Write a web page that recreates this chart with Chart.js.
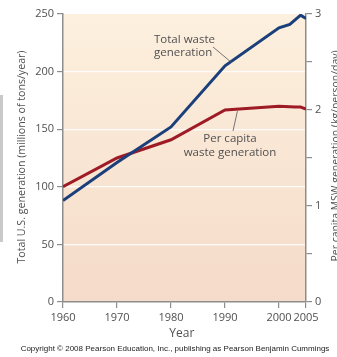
<!DOCTYPE html>
<html>
<head>
<meta charset="utf-8">
<script src="https://cdn.jsdelivr.net/npm/chart.js@4/dist/chart.umd.min.js"></script>
<style>
  html, body { margin: 0; padding: 0; background: #fff; }
  #wrap { position: relative; width: 337px; height: 357px; overflow: hidden; }
  #edge { position: absolute; left: 0; top: 95px; width: 3px; height: 147px; background: #c9c9c9; }
</style>
</head>
<body>
<div id="wrap">
  <canvas id="c" width="337" height="357"></canvas>
  <div id="edge"></div>
</div>
<script>
// Total municipal solid waste (millions of tons/year), left axis
const totalYears = [1960, 1970, 1980, 1990, 2000, 2002, 2004, 2005];
const totalWaste = [88, 121, 152, 205, 238, 241, 249, 246];

// Per capita MSW generation (kg/person/day), right axis
const perCapitaYears = [1960, 1970, 1980, 1990, 2000, 2003, 2004, 2005];
const perCapita = [1.20, 1.50, 1.69, 2.00, 2.04, 2.03, 2.03, 2.01];

// Axis tick labels
const yearTicks = [1960, 1970, 1980, 1990, 2000, 2005];
const leftTicks = [0, 50, 100, 150, 200, 250];
const rightTicks = [0, 0.5, 1, 1.5, 2, 2.5, 3];

const leftTitle = 'Total U.S. generation (millions of tons/year)';
const rightTitle = 'Per capita MSW generation (kg/person/day)';
const xTitle = 'Year';
const copyright = 'Copyright \u00A9 2008 Pearson Education, Inc., publishing as Pearson Benjamin Cummings';

const BLUE = '#1b3f7b';
const RED = '#9e1b26';
const AXIS = '#8d8d8d';
const TEXT = '#505050';
const FONT = '"Open Sans", "Noto Sans", sans-serif';

function interp(xs, ys, x) {
  for (let i = 0; i < xs.length - 1; i++) {
    if (x >= xs[i] && x <= xs[i + 1]) {
      const t = (x - xs[i]) / (xs[i + 1] - xs[i]);
      return ys[i] + t * (ys[i + 1] - ys[i]);
    }
  }
  return ys[ys.length - 1];
}

// Text squeezed to a given length along its baseline
function fitText(ctx, str, x, y, len, rot, align) {
  ctx.save();
  ctx.translate(x, y);
  ctx.rotate(rot);
  const w = ctx.measureText(str).width;
  const s = Math.min(1, len / w);
  ctx.scale(s, 1);
  ctx.textAlign = align || 'center';
  ctx.fillText(str, 0, 0);
  ctx.restore();
}

const backdrop = {
  id: 'backdrop',
  beforeDraw(chart) {
    const { ctx, chartArea: a } = chart;
    const g = ctx.createLinearGradient(0, a.top, 0, a.bottom);
    g.addColorStop(0, '#fdf0de');
    g.addColorStop(1, '#f5dbc9');
    ctx.save();
    ctx.fillStyle = g;
    ctx.fillRect(a.left, a.top, a.right - a.left, a.bottom - a.top);
    ctx.restore();
  }
};

const labels = {
  id: 'labels',
  afterDraw(chart) {
    const { ctx, scales } = chart;
    const x = scales.x, yl = scales.y, yr = scales.y2;
    ctx.save();
    ctx.fillStyle = TEXT;
    ctx.textBaseline = 'middle';

    // axis titles
    ctx.font = '11px ' + FONT;
    fitText(ctx, leftTitle, 22, 157, 213, -Math.PI / 2);
    fitText(ctx, rightTitle, 336, 156, 211, -Math.PI / 2);
    ctx.font = '12px ' + FONT;
    ctx.textAlign = 'center';
    ctx.fillText(xTitle, x.getPixelForValue(1982), 334);

    // copyright line
    ctx.fillStyle = '#222';
    ctx.font = '8px "Liberation Sans", Arial, sans-serif';
    fitText(ctx, copyright, 175, 349, 313, 0);

    // series annotations
    ctx.fillStyle = TEXT;
    ctx.font = '11.5px ' + FONT;
    ctx.textAlign = 'left';
    ctx.fillText('Total waste', 154, 40);
    ctx.fillText('generation', 154, 53);
    ctx.textAlign = 'center';
    ctx.fillText('Per capita', 230, 139);
    ctx.fillText('waste generation', 230, 153);

    // leader lines to the curves
    ctx.strokeStyle = '#555';
    ctx.lineWidth = 0.8;
    const ty = 1991.3;
    ctx.beginPath();
    ctx.moveTo(213, 47);
    ctx.lineTo(x.getPixelForValue(ty), yl.getPixelForValue(interp(totalYears, totalWaste, ty)) + 2);
    ctx.stroke();
    const py = 1992.3;
    ctx.beginPath();
    ctx.moveTo(233, 131);
    ctx.lineTo(x.getPixelForValue(py), yr.getPixelForValue(interp(perCapitaYears, perCapita, py)) + 2);
    ctx.stroke();
    ctx.restore();
  }
};

const tickFont = { family: FONT, size: 11 };

new Chart(document.getElementById('c'), {
  type: 'line',
  data: {
    datasets: [
      {
        label: 'Total waste generation',
        data: totalYears.map((yr, i) => ({ x: yr, y: totalWaste[i] })),
        borderColor: BLUE,
        borderWidth: 3,
        pointRadius: 0,
        tension: 0,
        yAxisID: 'y'
      },
      {
        label: 'Per capita waste generation',
        data: perCapitaYears.map((yr, i) => ({ x: yr, y: perCapita[i] })),
        borderColor: RED,
        borderWidth: 3,
        pointRadius: 0,
        tension: 0,
        yAxisID: 'y2'
      }
    ]
  },
  options: {
    responsive: false,
    animation: false,
    events: [],
    layout: { padding: { top: 14, left: 0, right: 0, bottom: 0 } },
    plugins: { legend: { display: false }, tooltip: { enabled: false } },
    scales: {
      x: {
        type: 'linear',
        min: yearTicks[0],
        max: yearTicks[yearTicks.length - 1],
        afterBuildTicks: s => { s.ticks = yearTicks.map(v => ({ value: v })); },
        afterFit: s => { s.height = 55; },
        grid: { drawOnChartArea: false, drawTicks: true, tickLength: 6, color: AXIS, lineWidth: 1.2 },
        border: { color: AXIS, width: 1.5 },
        ticks: { color: TEXT, font: tickFont, padding: 3, maxRotation: 0, autoSkip: false,
                 callback: v => String(v) }
      },
      y: {
        position: 'left',
        min: 0, max: 250,
        afterBuildTicks: s => { s.ticks = leftTicks.map(v => ({ value: v })); },
        afterFit: s => { s.width = 63; },
        grid: {
          drawOnChartArea: true,
          color: c => (c.tick && c.tick.value > 0 && c.tick.value < 250) ? 'rgba(255,255,255,0.9)' : 'rgba(0,0,0,0)',
          tickColor: AXIS,
          tickLength: 6,
          lineWidth: 1.2
        },
        border: { color: AXIS, width: 1.5 },
        ticks: { color: TEXT, font: tickFont, padding: 3, autoSkip: false }
      },
      y2: {
        position: 'right',
        min: 0, max: 3,
        afterBuildTicks: s => { s.ticks = rightTicks.map(v => ({ value: v })); },
        afterFit: s => { s.width = 31; },
        grid: { drawOnChartArea: false, tickColor: AXIS, tickLength: 6, lineWidth: 1.2 },
        border: { color: AXIS, width: 1.5 },
        ticks: { color: TEXT, font: tickFont, padding: 3, autoSkip: false,
                 callback: v => Number.isInteger(v) ? String(v) : '' }
      }
    }
  },
  plugins: [backdrop, labels]
});
</script>
</body>
</html>
